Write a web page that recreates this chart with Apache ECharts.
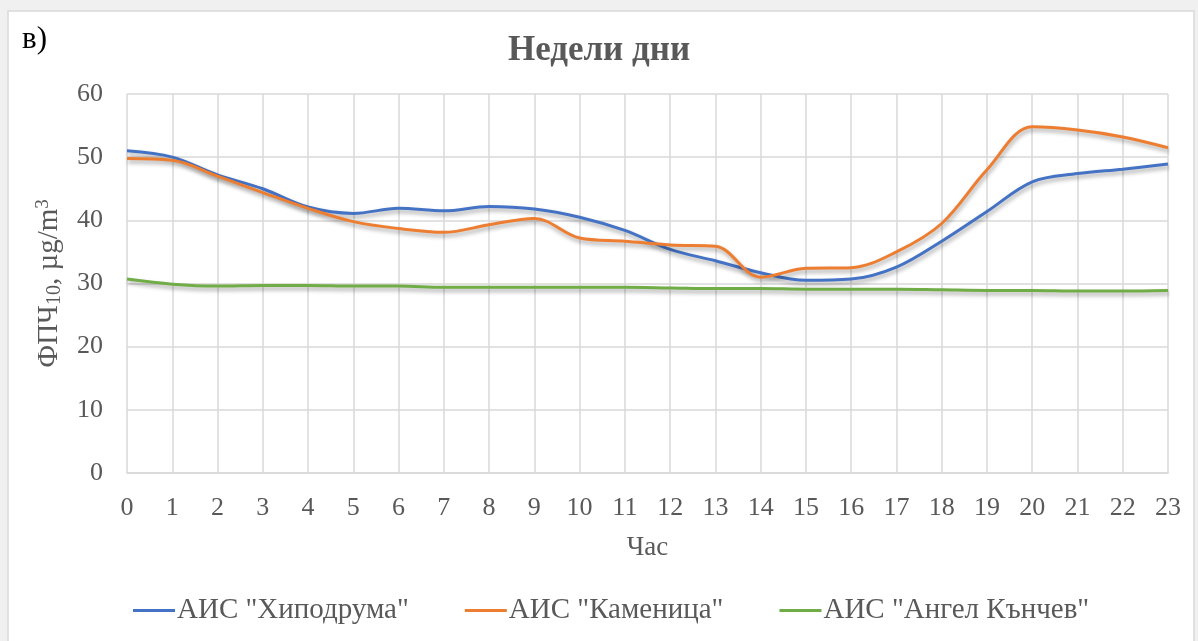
<!DOCTYPE html>
<html>
<head>
<meta charset="utf-8">
<script src="https://cdn.jsdelivr.net/npm/echarts@6/dist/echarts.min.js"></script>
<style>
html,body{margin:0;padding:0;background:#f0f0f0;}
#c{width:1198px;height:641px;}
</style>
</head>
<body>
<div id="c"></div>
<script>
const hours = ['0','1','2','3','4','5','6','7','8','9','10','11','12','13','14','15','16','17','18','19','20','21','22','23'];
const hipodruma = [51.0,50.0,47.2,45.0,42.1,41.1,41.9,41.5,42.2,41.8,40.5,38.4,35.4,33.6,31.7,30.5,30.7,32.6,36.7,41.4,46.1,47.4,48.1,48.9];
const kamenica = [49.8,49.5,47.0,44.4,41.9,39.8,38.7,38.1,39.3,40.3,37.2,36.7,36.1,35.9,31.0,32.4,32.5,35.0,39.5,48.0,54.8,54.3,53.2,51.5];
const kanchev = [30.7,29.9,29.6,29.7,29.7,29.6,29.6,29.4,29.4,29.4,29.4,29.4,29.3,29.2,29.2,29.1,29.1,29.1,29.0,28.9,28.9,28.8,28.8,28.9];
const seriesNames = ['АИС "Хиподрума"','АИС "Каменица"','АИС "Ангел Кънчев"'];
const colors = ['#4472C4','#ED7D31','#70AD47'];
const title = 'Недели дни';

const font = 'Liberation Serif';
const chart = echarts.init(document.getElementById('c'));
function mk(name, data, color){
  return {
    name, type:'line', data, smooth:0.35, symbol:'none',
    lineStyle:{width:3, color, shadowColor:'rgba(0,0,0,0.35)', shadowBlur:4, shadowOffsetY:3, shadowOffsetX:1},
    itemStyle:{color}
  };
}
chart.setOption({
  backgroundColor:'#f0f0f0',
  animation:false,
  graphic:[
    {type:'rect', shape:{x:8,y:11,width:1186,height:640}, style:{fill:'#ffffff', stroke:'#d9d9d9', lineWidth:1.5}, z:-10},
    {type:'text', left:22, top:24, style:{text:'в)', font:'31px "Liberation Serif"', fill:'#000'}}
  ],
  title:{text:title, left:'center', top:28, textStyle:{fontFamily:font, fontSize:35, fontWeight:'bold', color:'#595959'}},
  grid:{left:127, right:30, top:94, bottom:168},
  legend:{
    bottom:11, left:128, itemWidth:42, itemHeight:3, itemGap:56, icon:'rect',
    textStyle:{fontFamily:font, fontSize:29, color:'#595959', padding:[0,0,0,-3]},
    data:seriesNames
  },
  xAxis:{
    type:'category', data:hours, boundaryGap:false,
    name:'Час', nameLocation:'middle', nameGap:61,
    nameTextStyle:{fontFamily:font, fontSize:27, color:'#595959'},
    axisLine:{lineStyle:{color:'#d9d9d9', width:1.5}},
    axisTick:{show:false},
    axisLabel:{fontFamily:font, fontSize:26, color:'#595959', margin:22},
    splitLine:{show:true, lineStyle:{color:'#d9d9d9', width:1.5}}
  },
  yAxis:{
    type:'value', min:0, max:60, interval:10,
    name:'{a|ФПЧ}{s|10}{a|, µg/m}{p|3}', nameLocation:'middle', nameGap:62,
    nameTextStyle:{
      color:'#595959',
      rich:{
        a:{fontFamily:font, fontSize:29, color:'#595959'},
        s:{fontFamily:font, fontSize:20, color:'#595959', verticalAlign:'bottom', padding:[10,0,0,0]},
        p:{fontFamily:font, fontSize:19, color:'#595959', verticalAlign:'top', padding:[0,0,12,0]}
      }
    },
    axisLine:{show:false}, axisTick:{show:false},
    axisLabel:{fontFamily:font, fontSize:26, color:'#595959', margin:24},
    splitLine:{lineStyle:{color:'#d9d9d9', width:1.5}}
  },
  series:[
    mk(seriesNames[0], hipodruma, colors[0]),
    mk(seriesNames[1], kamenica, colors[1]),
    mk(seriesNames[2], kanchev, colors[2])
  ]
});
</script>
</body>
</html>
